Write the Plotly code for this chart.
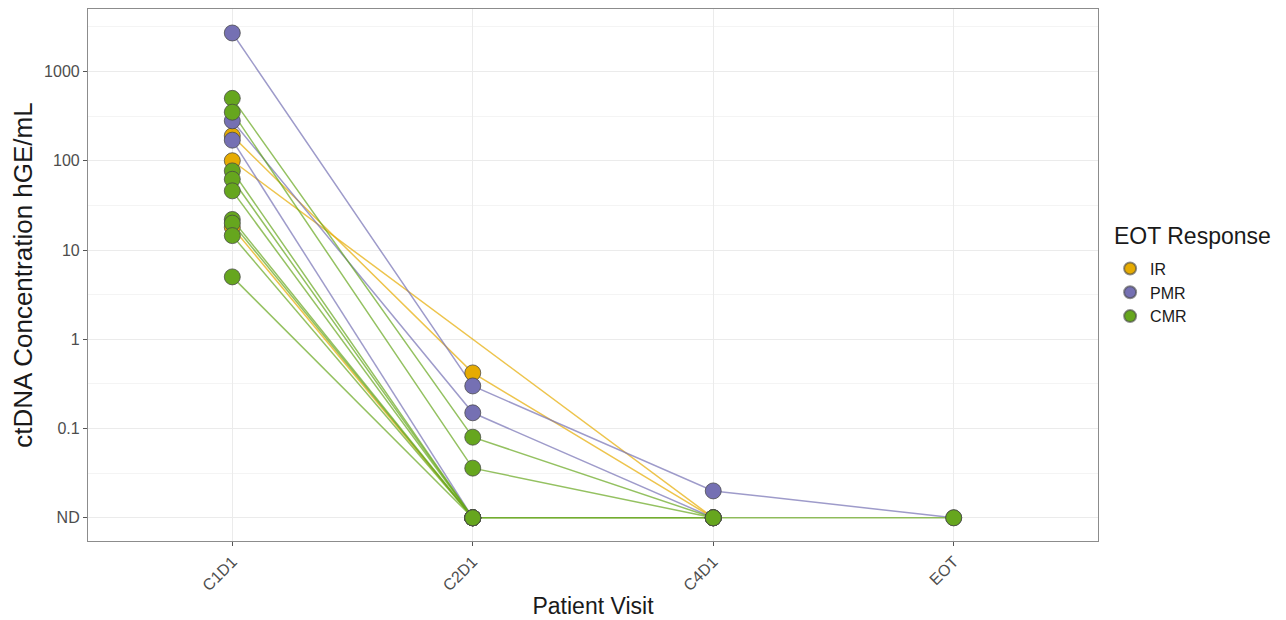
import plotly.graph_objects as go

# ---- data ----
visits = ["C1D1", "C2D1", "C4D1", "EOT"]
ND = 0.01  # plotted position of "not detected"

groups = ["IR", "PMR", "CMR"]
group_colors = {"IR": "#E6AB02", "PMR": "#7570B3", "CMR": "#66A61E"}

# per-patient values at each visit (None = no sample)
patient_group = ["IR", "IR", "IR",
                 "PMR", "PMR", "PMR",
                 "CMR", "CMR", "CMR", "CMR", "CMR", "CMR", "CMR", "CMR", "CMR"]
c1d1 = [190, 100, 18,
        2700, 280, 170,
        500, 350, 77, 62, 46, 22, 20, 14.5, 5]
c2d1 = [0.42, None, ND,
        0.3, 0.15, ND,
        0.08, 0.036, ND, ND, ND, ND, ND, ND, ND]
c4d1 = [ND, ND, None,
        0.02, ND, None,
        ND, ND, ND, ND, None, None, None, None, None]
eot = [None, None, None,
       ND, None, None,
       None, None, ND, None, None, None, None, None, None]

y_tickvals = [0.01, 0.1, 1, 10, 100, 1000]
y_ticktext = ["ND", "0.1", "1", "10", "100", "1000"]
y_minor = [0.0316, 0.316, 3.16, 31.6, 316, 3162]

# ---- figure ----
fig = go.Figure()

def rgba(hexc, a):
    h = hexc.lstrip("#")
    r, g, b = int(h[0:2], 16), int(h[2:4], 16), int(h[4:6], 16)
    return f"rgba({r},{g},{b},{a})"

# lines first
for i, grp in enumerate(patient_group):
    vals = [c1d1[i], c2d1[i], c4d1[i], eot[i]]
    xs = [v for v, y in zip(visits, vals) if y is not None]
    ys = [y for y in vals if y is not None]
    fig.add_trace(go.Scatter(
        x=xs, y=ys, mode="lines",
        line=dict(color=rgba(group_colors[grp], 0.7), width=1.5),
        showlegend=False, hoverinfo="skip"))

# points
for i, grp in enumerate(patient_group):
    vals = [c1d1[i], c2d1[i], c4d1[i], eot[i]]
    xs = [v for v, y in zip(visits, vals) if y is not None]
    ys = [y for y in vals if y is not None]
    fig.add_trace(go.Scatter(
        x=xs, y=ys, mode="markers",
        marker=dict(size=16, color=group_colors[grp],
                    line=dict(color="rgba(70,70,70,0.75)", width=1)),
        showlegend=False))

# legend entries
for grp in groups:
    fig.add_trace(go.Scatter(
        x=[None], y=[None], mode="markers", name=grp,
        marker=dict(size=15, color=group_colors[grp],
                    line=dict(color="rgba(70,70,70,0.6)", width=1))))

font_family = "Liberation Sans, Arial, Helvetica, sans-serif"

fig.update_layout(
    width=1286, height=620,
    margin=dict(l=80, r=196, t=1, b=87),
    paper_bgcolor="white", plot_bgcolor="white",
    font=dict(family=font_family, color="#4d4d4d"),
    legend=dict(
        font=dict(size=16, color="#1a1a1a"),
        x=1.012, xanchor="left", y=0.544, yanchor="top",
        tracegroupgap=0, itemsizing="constant",
        bgcolor="rgba(0,0,0,0)"),
    annotations=[dict(
        text="EOT Response", xref="paper", yref="paper",
        x=1.014, xanchor="left", y=0.574, yanchor="middle",
        showarrow=False, font=dict(size=23, color="#1a1a1a"))],
    xaxis=dict(
        type="category", categoryorder="array", categoryarray=visits,
        range=[-0.6, 3.6],
        title=dict(text="Patient Visit", font=dict(size=23, color="#1a1a1a"), standoff=4),
        tickangle=-45, tickfont=dict(size=16, color="#4d4d4d"),
        showgrid=True, gridcolor="#ebebeb", gridwidth=1,
        ticks="outside", ticklen=4, tickcolor="#555",
        showline=True, mirror=True, linecolor="#8c8c8c", linewidth=1.2,
        zeroline=False),
    yaxis=dict(
        type="log", range=[-2.26, 3.70],
        tickmode="array", tickvals=y_tickvals, ticktext=y_ticktext,
        title=dict(text="ctDNA Concentration hGE/mL", font=dict(size=26, color="#1a1a1a"), standoff=4),
        tickfont=dict(size=16, color="#4d4d4d"),
        showgrid=True, gridcolor="#ebebeb", gridwidth=1,
        minor=dict(tickmode="array", tickvals=y_minor, showgrid=True,
                   gridcolor="#f4f4f4", gridwidth=1, ticks=""),
        ticks="outside", ticklen=4, tickcolor="#555",
        showline=True, mirror=True, linecolor="#8c8c8c", linewidth=1.2,
        zeroline=False),
)

fig.write_html("out.html")
